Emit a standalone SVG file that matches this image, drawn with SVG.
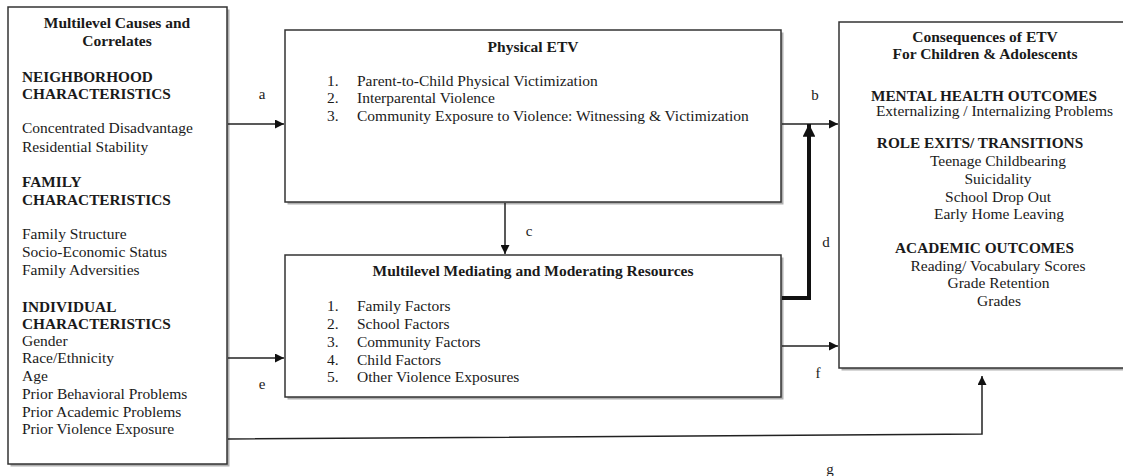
<svg xmlns="http://www.w3.org/2000/svg" width="1123" height="476" viewBox="0 0 1123 476">
<style>
  .box { fill: #ffffff; stroke: #333333; stroke-width: 1.5; }
  .shadow { fill: #b0b0b0; stroke: none; }
  text { font-family: "Liberation Serif", "Times New Roman", serif; fill: #1a1a1a; }
  .t { font-size: 15.5px; }
  .b { font-size: 15.3px; font-weight: bold; }
  .h { font-size: 15.5px; font-weight: bold; }
  .m { text-anchor: middle; }
  .lbl { font-size: 15px; text-anchor: middle; }
  .line { fill: none; stroke: #222222; stroke-width: 1.5; }
  .thick { fill: none; stroke: #111111; stroke-width: 4; }
</style>
<defs>
  <marker id="arr" viewBox="0 0 10 10" refX="10" refY="5" markerWidth="6" markerHeight="6" orient="auto" markerUnits="strokeWidth">
    <path d="M0,0 L10,5 L0,10 z" fill="#111111"/>
  </marker>
  <marker id="arrT" viewBox="0 0 10 10" refX="10" refY="5" markerWidth="3.2" markerHeight="3.2" orient="auto" markerUnits="strokeWidth">
    <path d="M0,0 L10,5 L0,10 z" fill="#111111"/>
  </marker>
</defs>
<rect width="1123" height="476" fill="#ffffff"/>

<g id="node-causes">
  <rect class="shadow" x="10.5" y="9.5" width="219" height="457"/>
  <rect class="box" x="8" y="7" width="219" height="457"/>
  <text class="h m" x="117" y="28">Multilevel Causes and</text>
  <text class="h m" x="117" y="46">Correlates</text>
  <text class="b" x="22" y="82">NEIGHBORHOOD</text>
  <text class="b" x="22" y="99">CHARACTERISTICS</text>
  <text class="t" x="22" y="133">Concentrated Disadvantage</text>
  <text class="t" x="22" y="152">Residential Stability</text>
  <text class="b" x="22" y="187">FAMILY</text>
  <text class="b" x="22" y="205">CHARACTERISTICS</text>
  <text class="t" x="22" y="239">Family Structure</text>
  <text class="t" x="22" y="257">Socio-Economic Status</text>
  <text class="t" x="22" y="275">Family Adversities</text>
  <text class="b" x="22" y="312">INDIVIDUAL</text>
  <text class="b" x="22" y="329">CHARACTERISTICS</text>
  <text class="t" x="22" y="346">Gender</text>
  <text class="t" x="22" y="363">Race/Ethnicity</text>
  <text class="t" x="22" y="381">Age</text>
  <text class="t" x="22" y="399">Prior Behavioral Problems</text>
  <text class="t" x="22" y="417">Prior Academic Problems</text>
  <text class="t" x="22" y="434">Prior Violence Exposure</text>
</g>

<g id="node-physical">
  <rect class="shadow" x="287.5" y="32.5" width="496" height="172"/>
  <rect class="box" x="285" y="30" width="496" height="172"/>
  <text class="h m" x="533" y="52">Physical ETV</text>
  <text class="t" x="327" y="86">1.</text>
  <text class="t" x="357" y="86">Parent-to-Child Physical Victimization</text>
  <text class="t" x="327" y="103">2.</text>
  <text class="t" x="357" y="103">Interparental Violence</text>
  <text class="t" x="327" y="121">3.</text>
  <text class="t" x="357" y="121">Community Exposure to Violence: Witnessing &amp; Victimization</text>
</g>

<g id="node-mediating">
  <rect class="shadow" x="287.5" y="257.5" width="496" height="142"/>
  <rect class="box" x="285" y="255" width="496" height="142"/>
  <text class="h m" x="533" y="276">Multilevel Mediating and Moderating Resources</text>
  <text class="t" x="327" y="311">1.</text>
  <text class="t" x="357" y="311">Family Factors</text>
  <text class="t" x="327" y="329">2.</text>
  <text class="t" x="357" y="329">School Factors</text>
  <text class="t" x="327" y="347">3.</text>
  <text class="t" x="357" y="347">Community Factors</text>
  <text class="t" x="327" y="365">4.</text>
  <text class="t" x="357" y="365">Child Factors</text>
  <text class="t" x="327" y="382">5.</text>
  <text class="t" x="357" y="382">Other Violence Exposures</text>
</g>

<g id="node-consequences">
  <rect class="shadow" x="841.5" y="24.5" width="300" height="346"/>
  <rect class="box" x="839" y="22" width="300" height="346"/>
  <text class="h m" x="985" y="42">Consequences of ETV</text>
  <text class="h m" x="985" y="59">For Children &amp; Adolescents</text>
  <text class="b m" x="984" y="101">MENTAL HEALTH OUTCOMES</text>
  <text class="t m" x="994.5" y="116">Externalizing / Internalizing Problems</text>
  <text class="b m" x="980" y="148">ROLE EXITS/ TRANSITIONS</text>
  <text class="t m" x="998" y="166">Teenage Childbearing</text>
  <text class="t m" x="998" y="184">Suicidality</text>
  <text class="t m" x="998" y="202">School Drop Out</text>
  <text class="t m" x="999" y="219">Early Home Leaving</text>
  <text class="b m" x="984.5" y="253">ACADEMIC OUTCOMES</text>
  <text class="t m" x="998" y="271">Reading/ Vocabulary Scores</text>
  <text class="t m" x="998.5" y="288">Grade Retention</text>
  <text class="t m" x="999" y="306">Grades</text>
</g>

<g id="connectors">
  <line class="line" x1="228" y1="124" x2="284" y2="124" marker-end="url(#arr)"/>
  <line class="line" x1="782" y1="124" x2="838" y2="124" marker-end="url(#arr)"/>
  <line class="line" x1="505" y1="203" x2="505" y2="254" marker-end="url(#arr)"/>
  <line class="line" x1="228" y1="358" x2="284" y2="358" marker-end="url(#arr)"/>
  <polyline class="thick" points="782,298 809,298 809,124" marker-end="url(#arrT)"/>
  <line class="line" x1="782" y1="346" x2="838" y2="346" marker-end="url(#arr)"/>
  <polyline class="line" points="228,439 982,434 982,376" marker-end="url(#arr)"/>
  <text class="lbl" x="262" y="99">a</text>
  <text class="lbl" x="815" y="100">b</text>
  <text class="lbl" x="529" y="236">c</text>
  <text class="lbl" x="826" y="247">d</text>
  <text class="lbl" x="262" y="389">e</text>
  <text class="lbl" x="818" y="378">f</text>
  <text class="lbl" x="830" y="474">g</text>
</g>
</svg>
